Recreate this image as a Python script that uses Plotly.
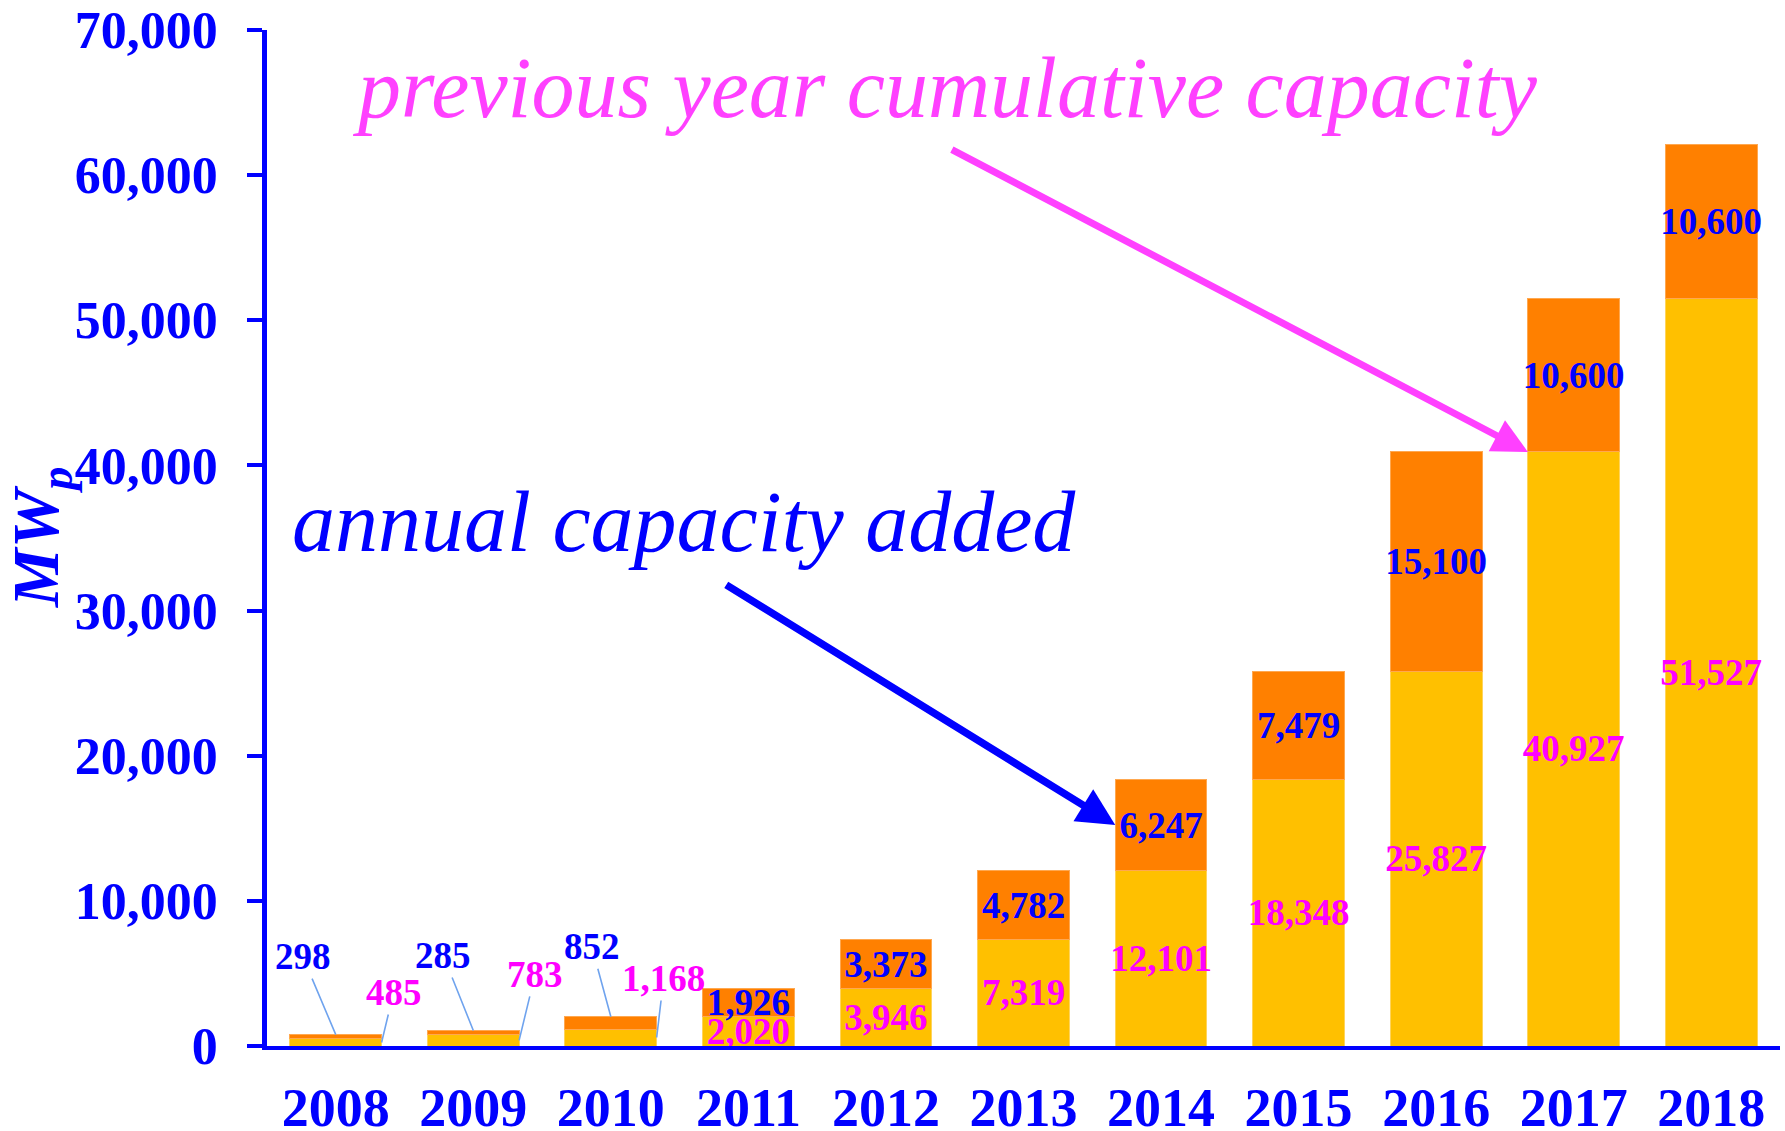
import plotly.graph_objects as go

years = [2008, 2009, 2010, 2011, 2012, 2013, 2014, 2015, 2016, 2017, 2018]
prev_cumulative = [485, 783, 1168, 2020, 3946, 7319, 12101, 18348, 25827, 40927, 51527]
annual_added = [298, 285, 852, 1926, 3373, 4782, 6247, 7479, 15100, 10600, 10600]
y_ticks = [0, 10000, 20000, 30000, 40000, 50000, 60000, 70000]

BLUE = "#0000FF"
MAG = "#FF00FF"
PINK = "#FF40FF"
ORANGE = "#FF8000"
YELLOW = "#FFC000"
LEADER = "#6FA3EE"
SERIF = "Liberation Serif"
LABEL_SIZE = 37

small = 3  # first years labelled outside with leader lines
prev_text = ["" if i < small else f"{v:,}" for i, v in enumerate(prev_cumulative)]
add_text = ["" if i < small else f"{v:,}" for i, v in enumerate(annual_added)]

fig = go.Figure()
fig.add_trace(go.Bar(
    x=years, y=prev_cumulative, width=0.667,
    marker=dict(color=YELLOW, line=dict(color="#FFD45C", width=1)),
    text=prev_text, textposition="inside", insidetextanchor="middle",
    textangle=0, constraintext="none",
    insidetextfont=dict(family=SERIF, size=LABEL_SIZE, color=MAG, weight="bold"),
    hoverinfo="skip", cliponaxis=False,
))
fig.add_trace(go.Bar(
    x=years, y=annual_added, width=0.667,
    marker=dict(color=ORANGE, line=dict(color="#FFA850", width=1)),
    text=add_text, textposition="inside", insidetextanchor="middle",
    textangle=0, constraintext="none",
    insidetextfont=dict(family=SERIF, size=LABEL_SIZE, color=BLUE, weight="bold"),
    hoverinfo="skip", cliponaxis=False,
))

annotations = []
# leader-line labels for the small early bars
added_off = [(-33, -78), (-30, -75), (-19, -70)]
prev_off = [(12, -50), (16, -66), (7, -59)]
for i in range(small):
    axo, ayo = added_off[i]
    annotations.append(dict(
        x=years[i], y=prev_cumulative[i] + annual_added[i], xref="x", yref="y",
        text=f"{annual_added[i]:,}", showarrow=True, arrowhead=0, arrowwidth=1.6,
        arrowcolor=LEADER, ax=axo, ay=ayo, standoff=0,
        font=dict(family=SERIF, size=LABEL_SIZE, color=BLUE, weight="bold"),
    ))
    axo, ayo = prev_off[i]
    annotations.append(dict(
        x=years[i] + 0.333, y=prev_cumulative[i] / 2, xref="x", yref="y",
        text=f"{prev_cumulative[i]:,}", showarrow=True, arrowhead=0, arrowwidth=1.6,
        arrowcolor=LEADER, ax=axo, ay=ayo, standoff=0,
        font=dict(family=SERIF, size=LABEL_SIZE, color=MAG, weight="bold"),
    ))

# big callout texts
annotations.append(dict(
    xref="paper", yref="paper", x=0.448, y=0.9434, xanchor="center", yanchor="middle",
    text="previous year cumulative capacity", showarrow=False,
    font=dict(family=SERIF, size=86, color=PINK, style="italic"),
))
annotations.append(dict(
    xref="paper", yref="paper", x=0.2756, y=0.5155, xanchor="center", yanchor="middle",
    text="annual capacity added", showarrow=False,
    font=dict(family=SERIF, size=86, color=BLUE, style="italic"),
))
# callout arrows
i17 = years.index(2017)
annotations.append(dict(
    x=years[i17] - 0.333, y=prev_cumulative[i17], xref="x", yref="y",
    text=" ", showarrow=True, arrowhead=2, arrowsize=1.0, arrowwidth=7,
    arrowcolor=PINK, ax=-579, ay=-304, standoff=0,
))
i14 = years.index(2014)
annotations.append(dict(
    x=years[i14] - 0.333, y=prev_cumulative[i14] + annual_added[i14] / 2, xref="x", yref="y",
    text=" ", showarrow=True, arrowhead=2, arrowsize=1.0, arrowwidth=7.5,
    arrowcolor=BLUE, ax=-392, ay=-242, standoff=0,
))
# y-axis title
annotations.append(dict(
    xref="paper", yref="paper", x=-0.150, y=0.5, xanchor="center", yanchor="middle",
    text="<b><i>MW<sub>p</sub></i></b>", textangle=-90, showarrow=False,
    font=dict(family=SERIF, size=66, color=BLUE),
))

fig.update_layout(
    width=1785, height=1131,
    margin=dict(l=267, r=5, t=30, b=85, autoexpand=False),
    paper_bgcolor="white", plot_bgcolor="white",
    barmode="stack", showlegend=False,
    annotations=annotations,
    xaxis=dict(
        range=[2007.5, 2018.5], tickmode="array", tickvals=years,
        ticktext=[str(y) for y in years], automargin=False,
        showline=True, linecolor=BLUE, linewidth=4, ticks="",
        showgrid=False, zeroline=False, ticklabelstandoff=11,
        tickfont=dict(family=SERIF, size=54, color=BLUE, weight="bold"),
    ),
    yaxis=dict(
        range=[0, 70000], tickmode="array", tickvals=y_ticks, tickformat=",",
        showline=True, linecolor=BLUE, linewidth=4.5, automargin=False,
        ticks="outside", ticklen=15, tickwidth=4, tickcolor=BLUE,
        showgrid=False, zeroline=False, ticklabelstandoff=19,
        tickfont=dict(family=SERIF, size=52, color=BLUE, weight="bold"),
    ),
    shapes=[dict(type="line", xref="paper", yref="y", x0=-0.0099, x1=0, y0=0, y1=0,
                 line=dict(color=BLUE, width=4))],
)

fig.write_html("out.html")
